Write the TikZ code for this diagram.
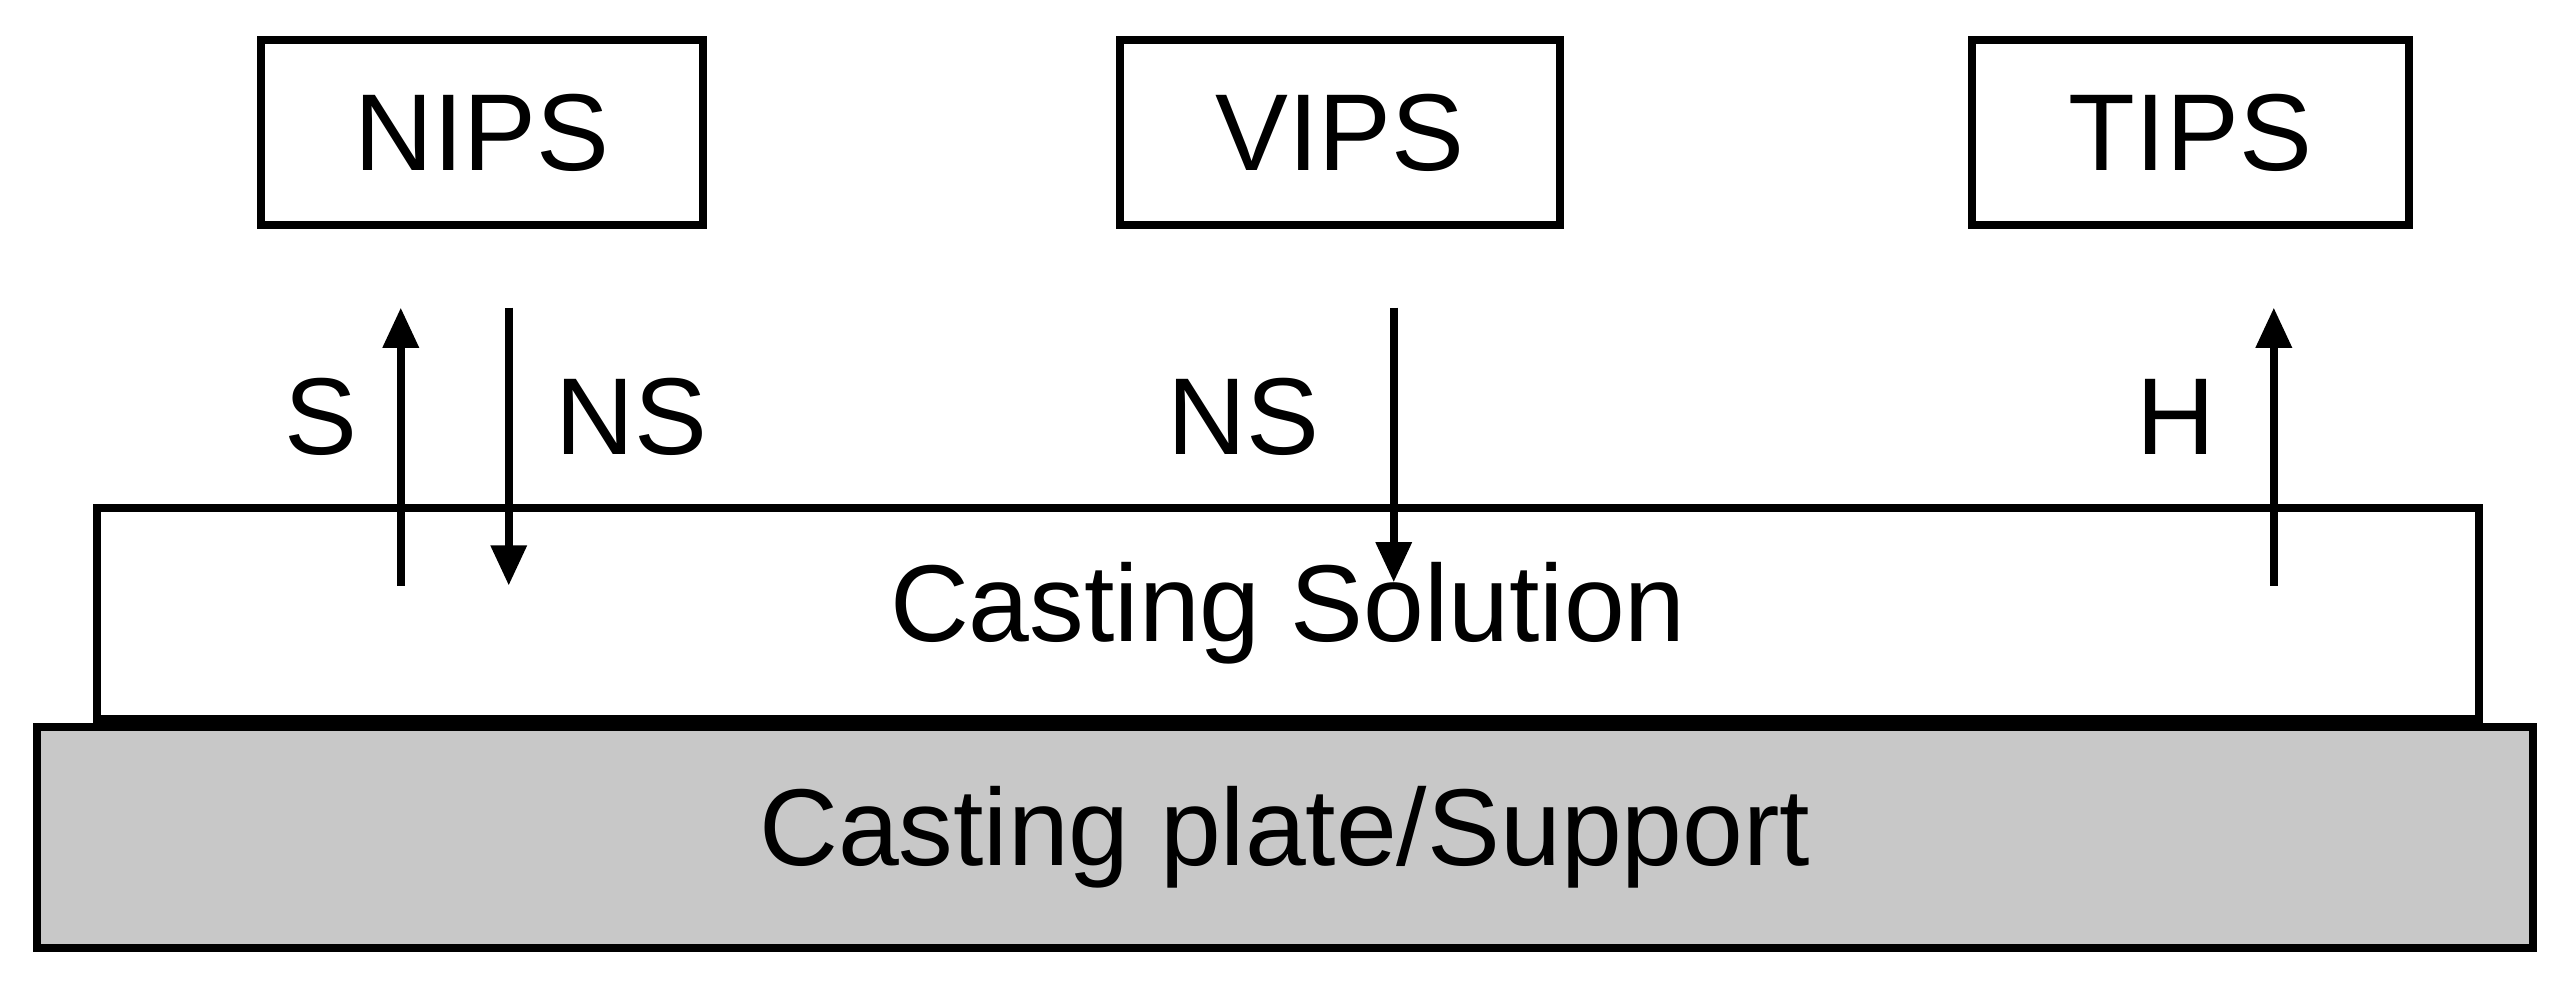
\documentclass[tikz,border=0pt]{standalone}
\usepackage{fontspec}
\setmainfont{Liberation Sans}
\usetikzlibrary{arrows.meta}
\definecolor{plate}{RGB}{200,200,200}
\begin{document}
\begin{tikzpicture}[x=0.01cm,y=-0.01cm,
  box/.style={draw,line width=1.4pt,inner sep=0pt,font=\fontsize{19}{23}\selectfont},
  lab/.style={font=\fontsize{19}{23}\selectfont},
  arr/.style={line width=1.4pt,-{Triangle[length=7pt,width=6pt]}}]
\useasboundingbox (0,0) rectangle (1568,600);
\node[box,fill=plate,minimum width=15.25cm,minimum height=1.35cm,anchor=north west] (plate) at (20,442) {Casting plate/Support};
\node[box,fill=white,minimum width=14.55cm,minimum height=1.29cm,anchor=south west] (sol) at (57,442) {Casting Solution};
\node[box,minimum width=2.7cm,minimum height=1.13cm,anchor=north west] (nips) at (157,22) {NIPS};
\node[box,minimum width=2.69cm,minimum height=1.13cm,anchor=north west] (vips) at (682,22) {VIPS};
\node[box,minimum width=2.67cm,minimum height=1.13cm,anchor=north west] (tips) at (1203,22) {TIPS};
\coordinate (a1s) at (245,358); \coordinate (a1e) at (245,188);
\coordinate (a2s) at (311,188); \coordinate (a2e) at (311,358);
\coordinate (a3s) at (852,188); \coordinate (a3e) at (852,356);
\coordinate (a4s) at (1390,358); \coordinate (a4e) at (1390,188);
\draw[arr] (a1s) -- (a1e);
\draw[arr] (a2s) -- (a2e);
\draw[arr] (a3s) -- (a3e);
\draw[arr] (a4s) -- (a4e);
\node[lab] (s) at (196,255) {S};
\node[lab] (ns1) at (386,255) {NS};
\node[lab] (ns2) at (760,255) {NS};
\node[lab] (h) at (1330,255) {H};
\end{tikzpicture}
\end{document}
